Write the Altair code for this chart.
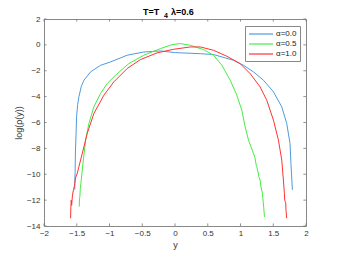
import altair as alt
import pandas as pd

# alpha = 0.0
x_a0 = [-1.53, -1.53, -1.525, -1.52, -1.51, -1.503, -1.485, -1.467, -1.43, -1.39, -1.29, -1.137, -0.985, -0.73,
        -0.477, -0.223, 0.005, 0.386, 0.59, 0.894, 1.046, 1.198, 1.35, 1.503, 1.63, 1.706, 1.756, 1.77, 1.792]
y_a0 = [-11.2, -10.7, -9.8, -8.2, -6.8, -5.56, -4.6, -4.0, -3.2, -2.73, -2.09, -1.58, -1.32, -0.80,
        -0.55, -0.47, -0.6, -0.68, -0.75, -1.19, -1.58, -2.09, -2.73, -3.63, -4.79, -6.08, -7.62, -9.16, -11.2]

# alpha = 0.5
x_a5 = [-1.462, -1.458, -1.452, -1.446, -1.431, -1.40, -1.365, -1.315, -1.239, -1.137, -1.036, -0.909, -0.706,
        -0.477, -0.223, -0.046, 0.081, 0.234, 0.437, 0.589, 0.716, 0.843, 0.944, 1.02, 1.071, 1.122, 1.198,
        1.22, 1.24, 1.249, 1.27, 1.28, 1.30, 1.31, 1.335, 1.34, 1.355, 1.366]
y_a5 = [-12.5, -11.9, -11.7, -11.1, -10.45, -8.9, -7.36, -6.08, -4.79, -3.76, -2.99, -2.35, -1.45,
        -0.80, -0.29, 0.02, 0.1, -0.03, -0.37, -0.80, -1.58, -2.73, -3.89, -5.05, -6.33, -7.36, -8.39,
        -8.7, -9.3, -9.42, -9.9, -10.2, -10.45, -10.9, -11.48, -11.8, -12.6, -13.3]

# alpha = 1.0
x_a1 = [-1.594, -1.59, -1.584, -1.578, -1.565, -1.55, -1.533, -1.52, -1.49, -1.467, -1.416, -1.34, -1.239,
        -1.086, -0.934, -0.731, -0.528, -0.274, -0.02, 0.234, 0.386, 0.589, 0.792, 0.995, 1.147, 1.30,
        1.401, 1.503, 1.579, 1.63, 1.655, 1.67, 1.675, 1.69, 1.695, 1.706]
y_a1 = [-13.4, -12.6, -12.0, -12.4, -11.6, -11.2, -10.84, -10.3, -9.9, -9.42, -8.39, -6.85, -5.31,
        -3.89, -2.86, -1.83, -1.14, -0.62, -0.34, -0.16, -0.16, -0.42, -0.88, -1.45, -2.22, -3.25,
        -4.28, -5.82, -7.36, -8.91, -10.45, -11.48, -12.0, -12.2, -12.8, -13.4]

series_names = ["\u03b1=0.0", "\u03b1=0.5", "\u03b1=1.0"]
series_colors = ["#4f9bdc", "#44ee44", "#ff3333"]

x_ticks = [-2, -1.5, -1, -0.5, 0, 0.5, 1, 1.5, 2]
y_ticks = [-14, -12, -10, -8, -6, -4, -2, 0, 2]

rows = []
for name, xs, ys in zip(series_names, [x_a0, x_a5, x_a1], [y_a0, y_a5, y_a1]):
    for i, (a, b) in enumerate(zip(xs, ys)):
        rows.append({"s": name, "x": a, "y": b, "o": i})
df = pd.DataFrame(rows)

xs = alt.Scale(domain=[-2, 2], nice=False)
ys = alt.Scale(domain=[-14, 2], nice=False)

xaxis = alt.Axis(values=x_ticks, format="~g", tickSize=0, domain=False, grid=False,
                 labelPadding=3, labelFontSize=8, labelColor="#333", labelOverlap=False,
                 titleFontSize=9, titleColor="#333", titleFontWeight="normal",
                 titlePadding=3, labelFlush=False, title="y")
yaxis = alt.Axis(values=y_ticks, format="~g", tickSize=0, domain=False, grid=False,
                 labelPadding=4, labelFontSize=8, labelColor="#333", labelOverlap=False,
                 titleFontSize=9, titleColor="#333", titleFontWeight="normal",
                 titlePadding=3, labelFlush=False, title="log(\u03c1(y))")

lines = alt.Chart(df).mark_line(strokeWidth=1, clip=True).encode(
    x=alt.X("x:Q", scale=xs, axis=xaxis),
    y=alt.Y("y:Q", scale=ys, axis=yaxis),
    color=alt.Color("s:N", scale=alt.Scale(domain=series_names, range=series_colors),
                    legend=alt.Legend(title=None, orient="none", legendX=201, legendY=7,
                                      symbolType="M-1,0H5", symbolSize=64, symbolStrokeWidth=1.2,
                                      labelOffset=18,
                                      labelFontSize=8, labelColor="#222", rowPadding=1,
                                      padding=3, strokeColor="#888", fillColor="white",
                                      labelFont="Liberation Sans")),
    order="o:Q",
)

xt = pd.DataFrame({"t": x_ticks})
yt = pd.DataFrame({"t": y_ticks})
tick_col = "#777"
bt = alt.Chart(xt).mark_rule(color=tick_col, strokeWidth=0.8).encode(
    x=alt.X("t:Q", scale=xs, axis=xaxis),
    y=alt.YDatum(-14, scale=ys, axis=yaxis), y2=alt.datum(-13.8))
tt = alt.Chart(xt).mark_rule(color=tick_col, strokeWidth=0.8).encode(
    x=alt.X("t:Q", scale=xs, axis=xaxis),
    y=alt.YDatum(2, scale=ys, axis=yaxis), y2=alt.datum(1.8))
lt = alt.Chart(yt).mark_rule(color=tick_col, strokeWidth=0.8).encode(
    y=alt.Y("t:Q", scale=ys, axis=yaxis),
    x=alt.XDatum(-2, scale=xs, axis=xaxis), x2=alt.datum(-1.96))
rt = alt.Chart(yt).mark_rule(color=tick_col, strokeWidth=0.8).encode(
    y=alt.Y("t:Q", scale=ys, axis=yaxis),
    x=alt.XDatum(2, scale=xs, axis=xaxis), x2=alt.datum(1.96))

title_df = pd.DataFrame({"a": [0]})
t1 = alt.Chart(title_df).mark_text(text="T=T", fontSize=9, fontWeight="bold", align="left",
                                   baseline="alphabetic", font="Liberation Sans").encode(
    x=alt.value(99), y=alt.value(-4))
t2 = alt.Chart(title_df).mark_text(text="4", fontSize=7, fontWeight="bold", align="left",
                                   baseline="alphabetic", font="Liberation Sans").encode(
    x=alt.value(120), y=alt.value(-1.5))
t3 = alt.Chart(title_df).mark_text(text="\u03bb=0.6", fontSize=9, fontWeight="bold", align="left",
                                   baseline="alphabetic", font="Liberation Sans").encode(
    x=alt.value(127), y=alt.value(-4))

chart = alt.layer(lines, bt, tt, lt, rt, t1, t2, t3).properties(
    width=262, height=207,
    autosize=alt.AutoSizeParams(type="none"),
    padding={"left": 36, "top": 11, "right": 25, "bottom": 28},
).configure_view(stroke="#888", strokeWidth=1).configure_axis(
    labelFont="Liberation Sans", titleFont="Liberation Sans", labelOverlap=False)

chart.save("out.html", embed_options={"renderer": "svg", "actions": False})
